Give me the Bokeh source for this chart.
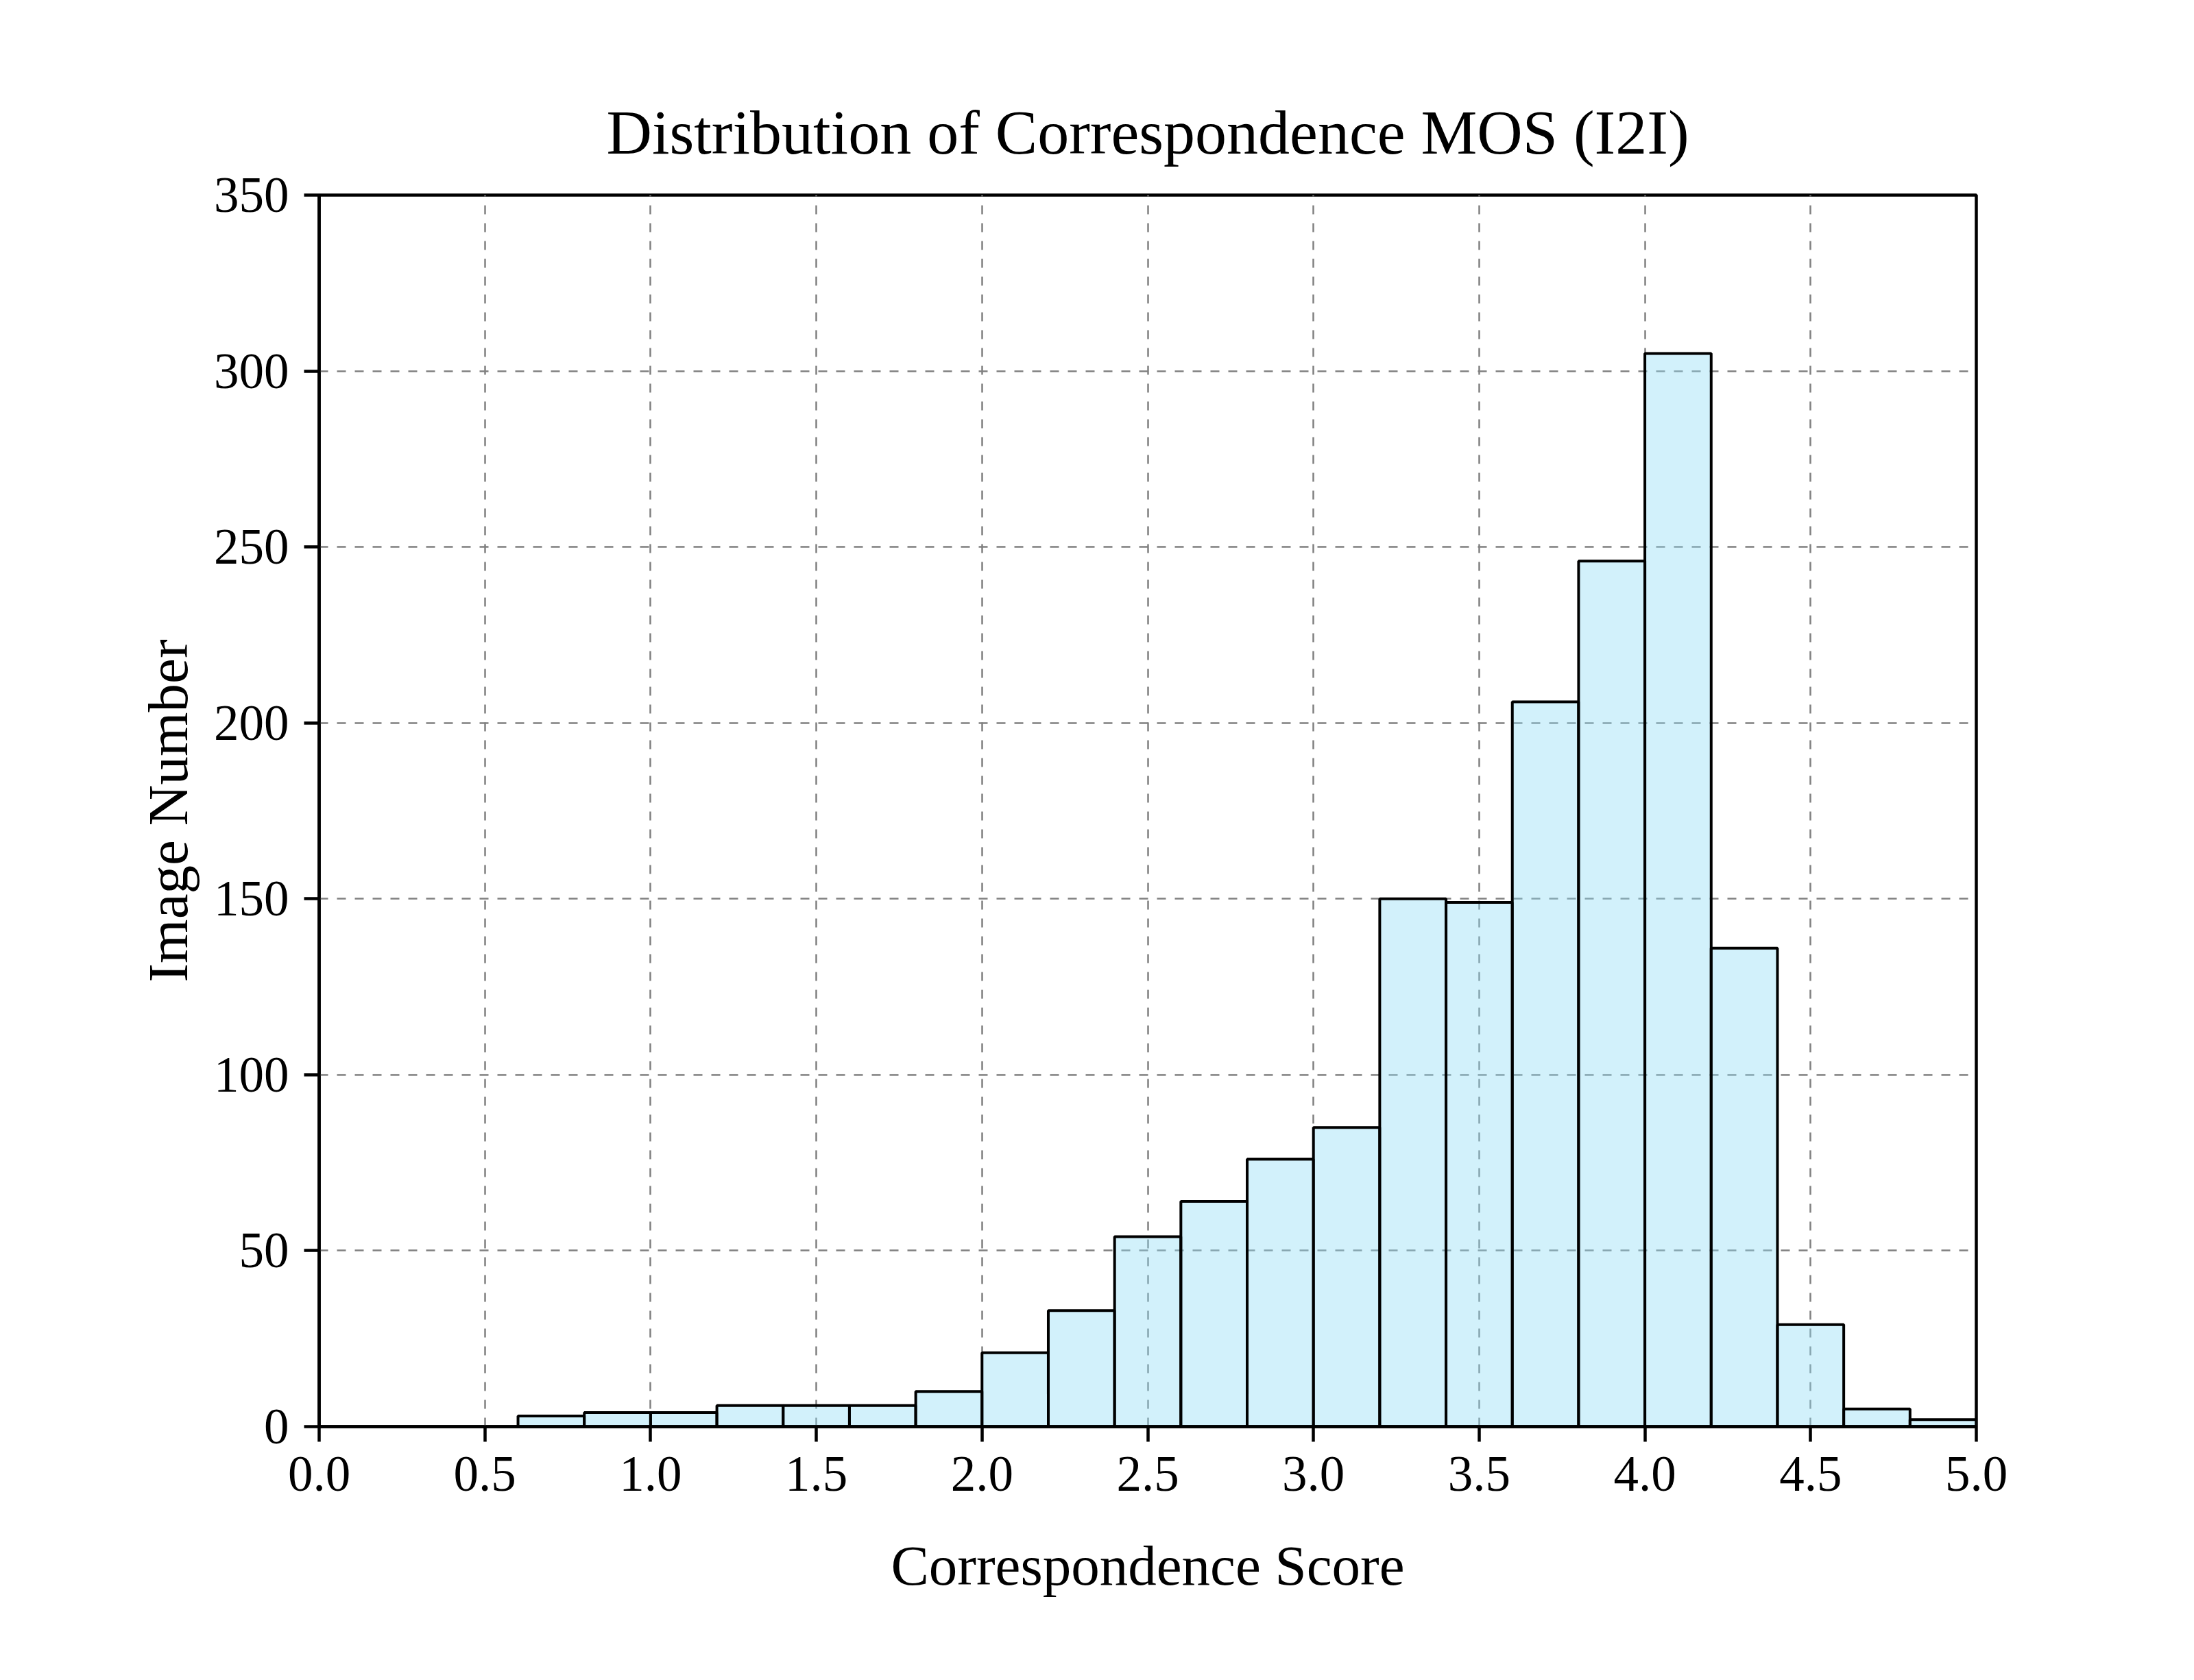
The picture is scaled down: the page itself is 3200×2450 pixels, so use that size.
from bokeh.plotting import figure
from bokeh.models import Range1d, FixedTicker, CustomJSTickFormatter
from bokeh.embed import file_html
from bokeh.resources import INLINE

# ---- data ----
bin_lefts = [0.6, 0.8, 1.0, 1.2, 1.4, 1.6, 1.8, 2.0, 2.2, 2.4, 2.6,
             2.8, 3.0, 3.2, 3.4, 3.6, 3.8, 4.0, 4.2, 4.4, 4.6, 4.8]
bin_rights = [0.8, 1.0, 1.2, 1.4, 1.6, 1.8, 2.0, 2.2, 2.4, 2.6, 2.8,
              3.0, 3.2, 3.4, 3.6, 3.8, 4.0, 4.2, 4.4, 4.6, 4.8, 5.0]
counts = [3, 4, 4, 6, 6, 6, 10, 21, 33, 54, 64,
          76, 85, 150, 149, 206, 246, 305, 136, 29, 5, 2]
x_ticks = [0.0, 0.5, 1.0, 1.5, 2.0, 2.5, 3.0, 3.5, 4.0, 4.5, 5.0]
y_ticks = [0, 50, 100, 150, 200, 250, 300, 350]

title_text = "Distribution of Correspondence MOS (I2I)"
x_label = "Correspondence Score"
y_label = "Image Number"

FONT = "Liberation Serif"

W, H = 3184, 2434
p = figure(width=W, height=H, output_backend="svg", toolbar_location=None,
           x_range=Range1d(0, 5), y_range=Range1d(0, 350),
           min_border_left=465, min_border_right=302,
           min_border_top=284, min_border_bottom=354,
           title=title_text)

p.title.text_font = FONT
p.title.text_font_size = "92px"
p.title.text_font_style = "normal"
p.title.align = "center"
p.title.text_color = "black"
p.title.standoff = 82

p.quad(left=bin_lefts, right=bin_rights, top=counts, bottom=0,
       fill_color="#8FDCF5", fill_alpha=0.4,
       line_color="black", line_width=4)

p.outline_line_color = "black"
p.outline_line_width = 4.5
p.outline_line_alpha = 1.0
p.background_fill_color = "white"
p.border_fill_color = "white"

for ax in (p.xaxis[0], p.yaxis[0]):
    ax.axis_line_width = 4.5
    ax.axis_line_color = "black"
    ax.major_tick_line_width = 4.5
    ax.major_tick_line_color = "black"
    ax.major_tick_out = 22
    ax.major_tick_in = 0
    ax.minor_tick_out = 0
    ax.minor_tick_in = 0
    ax.major_label_text_font = FONT
    ax.major_label_text_font_size = "73px"
    ax.major_label_text_color = "black"
    ax.axis_label_text_font = FONT
    ax.axis_label_text_font_size = "83px"
    ax.axis_label_text_font_style = "normal"
    ax.axis_label_text_color = "black"
    ax.major_label_standoff = 22

p.xaxis[0].ticker = FixedTicker(ticks=x_ticks)
p.yaxis[0].ticker = FixedTicker(ticks=y_ticks)
p.xaxis[0].formatter = CustomJSTickFormatter(code="return tick.toFixed(1);")
p.yaxis[0].formatter = CustomJSTickFormatter(code="return tick.toFixed(0);")
p.xaxis[0].axis_label = x_label
p.yaxis[0].axis_label = y_label
p.xaxis[0].axis_label_standoff = 60
p.yaxis[0].axis_label_standoff = 18

for g in (p.xgrid[0], p.ygrid[0]):
    g.grid_line_color = "#808080"
    g.grid_line_width = 2.5
    g.grid_line_dash = "13 13"
    g.grid_line_alpha = 1.0

open("out.html", "w").write(file_html(p, INLINE))
